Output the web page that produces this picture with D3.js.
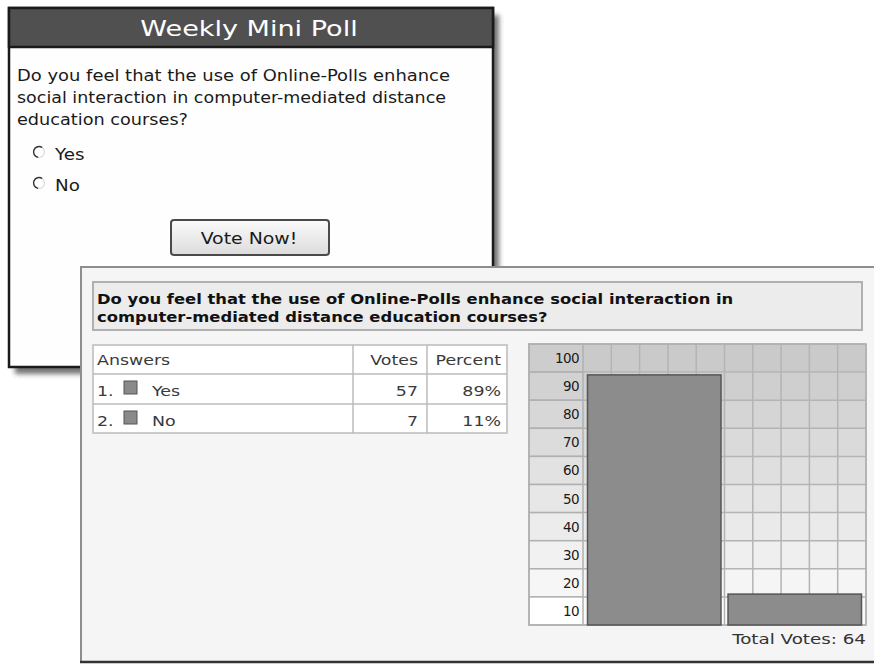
<!DOCTYPE html>
<html>
<head>
<meta charset="utf-8">
<script src="https://cdn.jsdelivr.net/npm/d3@7"></script>
<style>
  body { margin: 0; background: #fff; }
  svg { display: block; }
  text { font-family: Verdana, "DejaVu Sans", sans-serif; }
</style>
</head>
<body>
<div id="chart"></div>
<script>
// poll data
const miniLines = ["Do you feel that the use of Online-Polls enhance", "social interaction in computer-mediated distance", "education courses?"];
const miniWidths = [433, 429, 171];
const resLines = ["Do you feel that the use of Online-Polls enhance social interaction in", "computer-mediated distance education courses?"];
const answers = ["Yes", "No"];
const votes = [57, 7];
const percents = [89, 11];
const yTicks = [100, 90, 80, 70, 60, 50, 40, 30, 20, 10];
const totalVotes = 64;

const width = 874, height = 664;

// the screenshot is stretched wide, so widen text a bit
function stretch(sel, sx) {
    sel.each(function () {
        const w = this.getComputedTextLength();
        d3.select(this).attr('textLength', w * sx).attr('lengthAdjust', 'spacingAndGlyphs');
    });
    return sel;
}

const svg = d3.select('#chart').append('svg')
    .attr('width', width)
    .attr('height', height);

const defs = svg.append('defs');
const blur = defs.append('filter').attr('id', 'shadow').attr('x', '-10%').attr('y', '-10%').attr('width', '130%').attr('height', '130%');
blur.append('feGaussianBlur').attr('stdDeviation', 2.5);

const btnGrad = defs.append('linearGradient').attr('id', 'btn').attr('x1', 0).attr('y1', 0).attr('x2', 0).attr('y2', 1);
btnGrad.append('stop').attr('offset', '0%').attr('stop-color', '#fbfbfb');
btnGrad.append('stop').attr('offset', '100%').attr('stop-color', '#dcdcdc');

// ---------- mini poll box ----------
const mp = { x: 9, y: 8, w: 484, h: 359, head: 39 };

svg.append('rect')
    .attr('x', mp.x + 6).attr('y', mp.y + 7)
    .attr('width', mp.w).attr('height', mp.h)
    .attr('fill', '#444').attr('opacity', 0.75)
    .attr('filter', 'url(#shadow)');

svg.append('rect')
    .attr('x', mp.x).attr('y', mp.y)
    .attr('width', mp.w).attr('height', mp.h)
    .attr('fill', '#fefefe').attr('stroke', '#1a1a1a').attr('stroke-width', 2.5);

svg.append('rect')
    .attr('x', mp.x).attr('y', mp.y)
    .attr('width', mp.w).attr('height', mp.head)
    .attr('fill', '#505050').attr('stroke', '#1a1a1a').attr('stroke-width', 2.5);

stretch(svg.append('text')
    .attr('x', mp.x + mp.w / 2 - 2).attr('y', mp.y + 28)
    .attr('text-anchor', 'middle')
    .attr('fill', '#fff')
    .attr('font-size', 20.5)
    .text('Weekly Mini Poll'), 1.32);

svg.selectAll('.mini-q')
    .data(miniLines)
    .enter()
    .append('text')
    .attr('class', 'mini-q')
    .attr('x', 17)
    .attr('y', (d, i) => 81 + i * 22)
    .attr('font-size', 15.5)
    .attr('fill', '#1a1a1a')
    .attr('textLength', (d, i) => miniWidths[i])
    .attr('lengthAdjust', 'spacingAndGlyphs')
    .text(d => d);

const radios = svg.selectAll('.radio')
    .data(answers)
    .enter()
    .append('g')
    .attr('class', 'radio')
    .attr('transform', (d, i) => `translate(39,${152 + i * 31})`);

radios.append('circle').attr('r', 5.5).attr('fill', '#fff').attr('stroke', '#d8d8d8').attr('stroke-width', 1.2);
radios.append('path')
    .attr('d', d3.arc()({ innerRadius: 4.8, outerRadius: 6.2, startAngle: -Math.PI * 0.95, endAngle: Math.PI * 0.2 }))
    .attr('fill', '#333');
stretch(radios.append('text')
    .attr('x', 16).attr('y', 8)
    .attr('font-size', 15)
    .attr('fill', '#1a1a1a')
    .text(d => d), 1.22);

svg.append('rect')
    .attr('x', 171).attr('y', 220)
    .attr('width', 158).attr('height', 35)
    .attr('rx', 3)
    .attr('fill', 'url(#btn)').attr('stroke', '#4a4a4a').attr('stroke-width', 2);
stretch(svg.append('text')
    .attr('x', 249).attr('y', 243.5)
    .attr('text-anchor', 'middle')
    .attr('font-size', 16)
    .attr('fill', '#1a1a1a')
    .text('Vote Now!'), 1.18);

// ---------- results panel ----------
svg.append('rect')
    .attr('x', 81).attr('y', 267)
    .attr('width', 810).attr('height', 395)
    .attr('fill', '#f5f5f5').attr('stroke', '#8e8e8e').attr('stroke-width', 2);
svg.append('line')
    .attr('x1', 80).attr('x2', 874).attr('y1', 662).attr('y2', 662)
    .attr('stroke', '#333').attr('stroke-width', 2.5);

svg.append('rect')
    .attr('x', 93).attr('y', 282)
    .attr('width', 769).attr('height', 48)
    .attr('fill', '#ececec').attr('stroke', '#b0b0b0').attr('stroke-width', 2);

stretch(svg.selectAll('.res-q')
    .data(resLines)
    .enter()
    .append('text')
    .attr('class', 'res-q')
    .attr('x', 97)
    .attr('y', (d, i) => 304 + i * 18)
    .attr('font-size', 14)
    .attr('font-weight', 'bold')
    .attr('fill', '#111')
    .text(d => d), 1.17);

// table
const tbl = { x: 93, y: 345, cols: [93, 353, 427, 507], rows: [345, 374, 404, 433] };
svg.append('rect')
    .attr('x', tbl.x).attr('y', tbl.y)
    .attr('width', tbl.cols[3] - tbl.cols[0]).attr('height', tbl.rows[3] - tbl.rows[0])
    .attr('fill', '#fff').attr('stroke', '#bbb').attr('stroke-width', 1.5);
svg.selectAll('.tcol')
    .data(tbl.cols.slice(1, 3))
    .enter().append('line')
    .attr('x1', d => d).attr('x2', d => d)
    .attr('y1', tbl.rows[0]).attr('y2', tbl.rows[3])
    .attr('stroke', '#bbb').attr('stroke-width', 1.5);
svg.selectAll('.trow')
    .data(tbl.rows.slice(1, 3))
    .enter().append('line')
    .attr('x1', tbl.cols[0]).attr('x2', tbl.cols[3])
    .attr('y1', d => d).attr('y2', d => d)
    .attr('stroke', '#bbb').attr('stroke-width', 1.5);

const cellText = (x, y, s, anchor) => stretch(svg.append('text')
    .attr('x', x).attr('y', y)
    .attr('text-anchor', anchor)
    .attr('font-size', 14.5)
    .attr('fill', '#3a3a3a')
    .text(s), 1.2);

cellText(97, 365, 'Answers', 'start');
cellText(418, 365, 'Votes', 'end');
cellText(501, 365, 'Percent', 'end');

answers.forEach((a, i) => {
    const yb = tbl.rows[i + 1] + 22;
    cellText(97, yb, (i + 1) + '.', 'start');
    svg.append('rect')
        .attr('x', 124).attr('y', tbl.rows[i + 1] + 7)
        .attr('width', 13).attr('height', 13)
        .attr('fill', '#8a8a8a').attr('stroke', '#555').attr('stroke-width', 1);
    cellText(152, yb, a, 'start');
    cellText(418, yb, votes[i], 'end');
    cellText(501, yb, percents[i] + '%', 'end');
});

// ---------- bar chart ----------
const chart = { left: 529, labelRight: 583, right: 866, top: 344, bottom: 625 };

const y = d3.scaleLinear().domain([0, 100]).range([chart.bottom, chart.top]);
const x = d3.scaleBand()
    .domain(answers)
    .range([chart.labelRight, chart.right])
    .paddingInner(0.05)
    .paddingOuter(0.032);
const xGrid = d3.scaleLinear().domain([0, 10]).range([chart.labelRight, chart.right]);
const shade = d3.scaleLinear().domain([100, 10]).range(['#cacaca', '#fafafa']);
const labelShade = d3.scaleLinear().domain([100, 20]).range(['#cdcdcd', '#f6f6f6']);

const rows = svg.append('g').selectAll('g')
    .data(yTicks)
    .enter().append('g');

rows.append('rect')
    .attr('x', chart.labelRight)
    .attr('y', d => y(d))
    .attr('width', chart.right - chart.labelRight)
    .attr('height', d => y(d - 10) - y(d))
    .attr('fill', d => shade(d));

rows.append('rect')
    .attr('x', chart.left)
    .attr('y', d => y(d))
    .attr('width', chart.labelRight - chart.left)
    .attr('height', d => y(d - 10) - y(d))
    .attr('fill', d => d === 10 ? '#fff' : labelShade(d))
    .attr('stroke', '#b0b0b0').attr('stroke-width', 1.5);

rows.append('text')
    .attr('x', chart.labelRight - 4)
    .attr('y', d => (y(d) + y(d - 10)) / 2 + 5)
    .attr('text-anchor', 'end')
    .attr('font-size', 13.5)
    .attr('fill', '#1a1a1a')
    .attr('letter-spacing', -0.6)
    .text(d => d);

svg.append('g').selectAll('line')
    .data(yTicks.concat([0]))
    .enter().append('line')
    .attr('x1', chart.labelRight).attr('x2', chart.right)
    .attr('y1', d => y(d)).attr('y2', d => y(d))
    .attr('stroke', '#b4b4b4').attr('stroke-width', 1.5);

svg.append('g').selectAll('line')
    .data(d3.range(1, 11))
    .enter().append('line')
    .attr('x1', d => xGrid(d)).attr('x2', d => xGrid(d))
    .attr('y1', chart.top).attr('y2', chart.bottom)
    .attr('stroke', '#b4b4b4').attr('stroke-width', 1.5);

svg.append('rect')
    .attr('x', chart.left).attr('y', chart.top)
    .attr('width', chart.right - chart.left).attr('height', chart.bottom - chart.top)
    .attr('fill', 'none').attr('stroke', '#b0b0b0').attr('stroke-width', 1.5);

svg.append('g').selectAll('rect')
    .data(answers)
    .enter().append('rect')
    .attr('x', d => x(d))
    .attr('y', (d, i) => y(percents[i]))
    .attr('width', x.bandwidth())
    .attr('height', (d, i) => chart.bottom - y(percents[i]))
    .attr('fill', '#8c8c8c')
    .attr('stroke', '#555').attr('stroke-width', 1.5);

stretch(svg.append('text')
    .attr('x', chart.right)
    .attr('y', 644)
    .attr('text-anchor', 'end')
    .attr('font-size', 14.5)
    .attr('fill', '#333')
    .text('Total Votes: ' + totalVotes), 1.26);
</script>
</body>
</html>
